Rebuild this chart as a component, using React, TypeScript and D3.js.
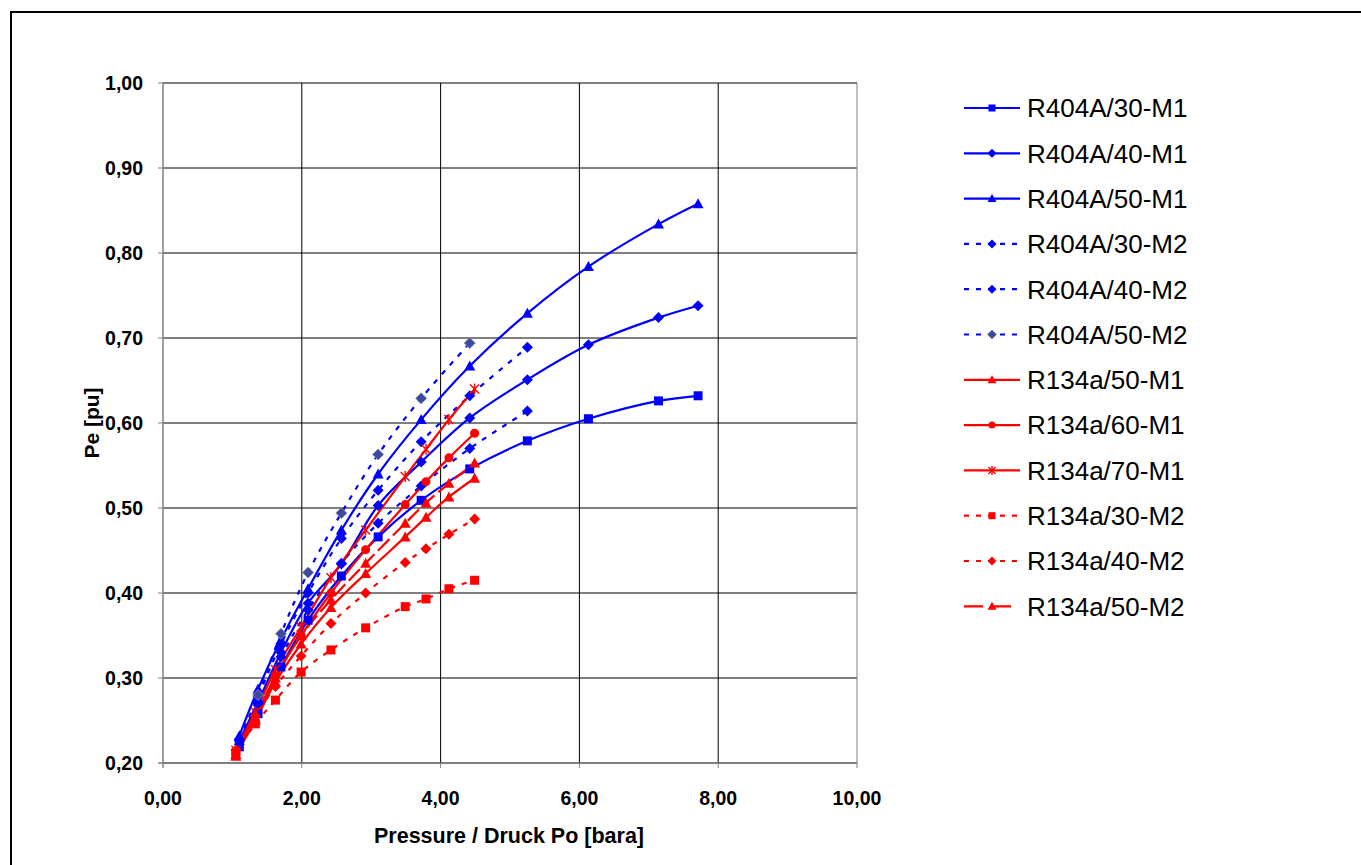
import * as d3 from 'd3';

// pressure values of the measurement points
const P_R404A = [1.1, 1.37, 1.7, 2.09, 2.57, 3.1, 3.72, 4.42, 5.25, 6.13, 7.14, 7.71];
const P_R134A = [1.05, 1.33, 1.62, 1.99, 2.42, 2.92, 3.49, 3.79, 4.12, 4.49];

const R404A_30_M1 = [0.219, 0.258, 0.313, 0.368, 0.42, 0.466, 0.509, 0.546, 0.579, 0.605, 0.626, 0.632];
const R404A_40_M1 = [0.226, 0.272, 0.33, 0.388, 0.434, 0.503, 0.554, 0.606, 0.651, 0.692, 0.724, 0.738];
const R404A_50_M1 = [0.232, 0.287, 0.345, 0.405, 0.474, 0.54, 0.604, 0.667, 0.729, 0.784, 0.834, 0.858];
const R404A_30_M2 = [0.222, 0.27, 0.325, 0.38, 0.435, 0.482, 0.526, 0.57, 0.614];
const R404A_40_M2 = [0.228, 0.278, 0.34, 0.4, 0.464, 0.521, 0.578, 0.632, 0.689];
const R404A_50_M2 = [null, 0.28, 0.352, 0.424, 0.494, 0.563, 0.629, 0.694];
const R134A_50_M1 = [0.21, 0.25, 0.295, 0.34, 0.383, 0.423, 0.466, 0.489, 0.513, 0.535];
const R134A_60_M1 = [0.213, 0.255, 0.302, 0.35, 0.4, 0.451, 0.504, 0.531, 0.559, 0.588];
const R134A_70_M1 = [0.215, 0.26, 0.31, 0.36, 0.418, 0.474, 0.537, 0.569, 0.604, 0.64];
const R134A_30_M2 = [0.212, 0.246, 0.274, 0.307, 0.333, 0.359, 0.384, 0.393, 0.405, 0.415];
const R134A_40_M2 = [0.215, 0.255, 0.29, 0.326, 0.364, 0.4, 0.436, 0.452, 0.469, 0.487];
const R134A_50_M2 = [0.208, 0.252, 0.3, 0.35, 0.392, 0.435, 0.482, 0.506, 0.529, 0.553];

const X_TICKS = [0, 2, 4, 6, 8, 10];
const Y_TICKS = [0.2, 0.3, 0.4, 0.5, 0.6, 0.7, 0.8, 0.9, 1.0];

type Marker = 'square' | 'diamond' | 'triangle' | 'circle' | 'star';
type Series = { name: string; p: number[]; v: (number | null)[]; color: string; marker: Marker; dash?: string; mfill?: string; mstroke?: string };

const SHORT = '5,7';
const LONG = '16,5';

const SERIES: Series[] = [
  { name: 'R404A/30-M1', p: P_R404A, v: R404A_30_M1, color: '#0000ff', marker: 'square' },
  { name: 'R404A/40-M1', p: P_R404A, v: R404A_40_M1, color: '#0000ff', marker: 'diamond' },
  { name: 'R404A/50-M1', p: P_R404A, v: R404A_50_M1, color: '#0000ff', marker: 'triangle' },
  { name: 'R404A/30-M2', p: P_R404A, v: R404A_30_M2, color: '#0000ff', marker: 'diamond', dash: SHORT },
  { name: 'R404A/40-M2', p: P_R404A, v: R404A_40_M2, color: '#0000ff', marker: 'diamond', dash: SHORT },
  { name: 'R404A/50-M2', p: P_R404A, v: R404A_50_M2, color: '#0000ff', marker: 'diamond', dash: SHORT, mfill: '#3a4aa0', mstroke: '#8a8aa0' },
  { name: 'R134a/50-M1', p: P_R134A, v: R134A_50_M1, color: '#ff0000', marker: 'triangle' },
  { name: 'R134a/60-M1', p: P_R134A, v: R134A_60_M1, color: '#ff0000', marker: 'circle' },
  { name: 'R134a/70-M1', p: P_R134A, v: R134A_70_M1, color: '#ff0000', marker: 'star' },
  { name: 'R134a/30-M2', p: P_R134A, v: R134A_30_M2, color: '#ff0000', marker: 'square', dash: SHORT },
  { name: 'R134a/40-M2', p: P_R134A, v: R134A_40_M2, color: '#ff0000', marker: 'diamond', dash: SHORT },
  { name: 'R134a/50-M2', p: P_R134A, v: R134A_50_M2, color: '#ff0000', marker: 'triangle', dash: LONG },
];

const FONT = '"Liberation Sans", Arial, sans-serif';

function MarkerShape({ type, x, y, s, fill, stroke }: { type: Marker; x: number; y: number; s: number; fill: string; stroke?: string }) {
  const h = s / 2;
  if (type === 'square') return <rect x={x - h} y={y - h} width={s} height={s} fill={fill} />;
  if (type === 'diamond')
    return <path d={`M${x},${y - h - 1}L${x + h + 1},${y}L${x},${y + h + 1}L${x - h - 1},${y}Z`} fill={fill} stroke={stroke} strokeWidth={stroke ? 1 : 0} />;
  if (type === 'triangle') return <path d={`M${x},${y - h - 1}L${x + h + 1},${y + h}L${x - h - 1},${y + h}Z`} fill={fill} />;
  if (type === 'circle') return <circle cx={x} cy={y} r={h} fill={fill} />;
  // asterisk
  return (
    <g stroke={fill} strokeWidth={1.4}>
      <line x1={x - h} y1={y - h} x2={x + h} y2={y + h} />
      <line x1={x - h} y1={y + h} x2={x + h} y2={y - h} />
      <line x1={x} y1={y - h - 1} x2={x} y2={y + h + 1} />
    </g>
  );
}

export default function App() {
  const left = 163, right = 857, top = 83, bottom = 763;
  const x = d3.scaleLinear().domain([0, 10]).range([left, right]);
  const y = d3.scaleLinear().domain([0.2, 1.0]).range([bottom, top]);
  const fmt = (v: number) => v.toFixed(2).replace('.', ',');

  const line = d3
    .line<[number, number]>()
    .x((d) => x(d[0]))
    .y((d) => y(d[1]))
    .curve(d3.curveCatmullRom.alpha(0.5));

  const pts = (s: Series) =>
    s.v.map((v, i) => (v == null ? null : ([s.p[i], v] as [number, number]))).filter((d): d is [number, number] => d !== null);

  const legX = 964, legY0 = 108, legStep = 45.3;

  return (
    <svg width={1361} height={865} style={{ position: 'absolute', left: 0, top: 0, background: '#fff' }} fontFamily={FONT}>
      <rect x={11} y={12} width={1400} height={900} fill="#fff" stroke="#000" strokeWidth={2} />
      <defs>
        <clipPath id="plot">
          <rect x={left} y={top} width={right - left} height={bottom - top} />
        </clipPath>
      </defs>

      {/* grid */}
      {Y_TICKS.map((t) => (
        <line key={'gy' + t} x1={left} x2={right} y1={y(t)} y2={y(t)} stroke="#000" strokeWidth={1} />
      ))}
      {X_TICKS.map((t) => (
        <line key={'gx' + t} x1={x(t)} x2={x(t)} y1={top} y2={bottom} stroke={t === 0 || t === 10 ? '#808080' : '#000'} strokeWidth={1} />
      ))}
      <line x1={left} x2={left} y1={top} y2={bottom + 5} stroke="#808080" />
      <line x1={left - 5} x2={right} y1={bottom} y2={bottom} stroke="#808080" />

      {/* ticks */}
      {Y_TICKS.map((t) => (
        <g key={'ty' + t}>
          <line x1={left - 5} x2={left} y1={y(t)} y2={y(t)} stroke="#808080" />
          <text x={left - 20} y={y(t)} dy="0.36em" textAnchor="end" fontSize={19.5} fontWeight="bold">
            {fmt(t)}
          </text>
        </g>
      ))}
      {X_TICKS.map((t) => (
        <g key={'tx' + t}>
          <line x1={x(t)} x2={x(t)} y1={bottom} y2={bottom + 5} stroke="#808080" />
          <text x={x(t)} y={bottom + 42} textAnchor="middle" fontSize={19.5} fontWeight="bold">
            {fmt(t)}
          </text>
        </g>
      ))}

      <text x={509} y={843} textAnchor="middle" fontSize={21.5} fontWeight="bold">
        Pressure / Druck Po [bara]
      </text>
      <text transform={`translate(99,${(top + bottom) / 2}) rotate(-90)`} textAnchor="middle" fontSize={21} fontWeight="bold">
        Pe [pu]
      </text>

      {/* series */}
      <g clipPath="url(#plot)">
        {SERIES.map((s) => (
          <path key={s.name} d={line(pts(s)) || ''} fill="none" stroke={s.color} strokeWidth={2.2} strokeDasharray={s.dash} />
        ))}
        {SERIES.map((s) =>
          pts(s).map((d, i) => (
            <MarkerShape key={s.name + i} type={s.marker} x={x(d[0])} y={y(d[1])} s={9} fill={s.mfill || s.color} stroke={s.mstroke} />
          ))
        )}
      </g>

      {/* legend */}
      {SERIES.map((s, i) => {
        const ly = legY0 + i * legStep;
        return (
          <g key={'leg' + s.name}>
            <line x1={legX} x2={legX + 56} y1={ly} y2={ly} stroke={s.color} strokeWidth={2.2} strokeDasharray={s.dash ? (s.dash === LONG ? '19,9' : '5,7') : undefined} />
            <MarkerShape type={s.marker} x={legX + 28} y={ly} s={7} fill={s.mfill || s.color} stroke={s.mstroke} />
            <text x={legX + 63} y={ly} dy="0.36em" fontSize={26}>
              {s.name}
            </text>
          </g>
        );
      })}
    </svg>
  );
}
